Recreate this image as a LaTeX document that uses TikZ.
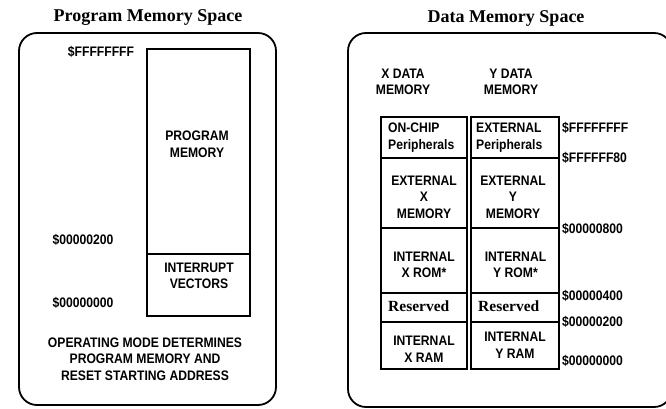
\documentclass[tikz,border=0pt]{standalone}
\usepackage{fontspec}
\setmainfont{Liberation Serif}
\newfontfamily\lab[FakeStretch=0.88]{Liberation Sans}
\begin{document}
\begin{tikzpicture}[x=1pt,y=-1pt,
  outer/.style={draw, line width=1.8pt, rounded corners=18pt},
  cell/.style={draw, line width=1.6pt, inner sep=0pt, outer sep=0pt},
  txt/.style={inner sep=0pt, align=center, font=\lab\bfseries\fontsize{13.8}{16.5}\selectfont},
  ltxt/.style={txt, align=left},
  ttl/.style={inner sep=0pt, font=\bfseries\fontsize{18}{20}\selectfont},
  srf/.style={inner sep=0pt, font=\bfseries\fontsize{15.5}{18}\selectfont}]
\useasboundingbox (0,0) rectangle (666,409);
\clip (0,0) rectangle (666,409);
% titles
\node[ttl] (t1) at (148,18) {Program Memory Space};
\node[ttl] (t2) at (506,18) {Data Memory Space};
% outer frames
\draw[outer] (19,33) rectangle (276,405);
\draw[outer] (348,33) rectangle (672,407);
% program memory column
\node[cell, minimum width=103pt, minimum height=205pt] (pm) at (198.5,151.5) {};
\node[cell, minimum width=103pt, minimum height=62pt] (iv) at (198.5,285) {};
\node[txt] (pmt) at (197,144) {PROGRAM\\MEMORY};
\node[txt] (ivt) at (199,276) {INTERRUPT\\VECTORS};
\node[txt] (a1) at (101,52) {\$FFFFFFFF};
\node[txt] (a2) at (83,240) {\$00000200};
\node[txt] (a3) at (83,303) {\$00000000};
\node[txt] (op) at (145,359) {OPERATING MODE DETERMINES\\PROGRAM MEMORY AND\\RESET STARTING ADDRESS};
% data memory headers
\node[txt] (xh) at (403,82) {X DATA\\MEMORY};
\node[txt] (yh) at (511,82) {Y DATA\\MEMORY};
% X column cells
\node[cell, minimum width=86pt, minimum height=41pt] (x1) at (424,137.5) {};
\node[cell, minimum width=86pt, minimum height=70pt] (x2) at (424,193) {};
\node[cell, minimum width=86pt, minimum height=65pt] (x3) at (424,260.5) {};
\node[cell, minimum width=86pt, minimum height=29pt] (x4) at (424,307.5) {};
\node[cell, minimum width=86pt, minimum height=47pt] (x5) at (424,345.5) {};
% Y column cells
\node[cell, minimum width=88pt, minimum height=41pt] (y1) at (515,137.5) {};
\node[cell, minimum width=88pt, minimum height=70pt] (y2) at (515,193) {};
\node[cell, minimum width=88pt, minimum height=65pt] (y3) at (515,260.5) {};
\node[cell, minimum width=88pt, minimum height=29pt] (y4) at (515,307.5) {};
\node[cell, minimum width=88pt, minimum height=47pt] (y5) at (515,345.5) {};
% cell texts
\node[ltxt, anchor=west] (x1t) at (388,137.5) {ON-CHIP\\Peripherals};
\node[ltxt, anchor=west] (y1t) at (476,137.5) {EXTERNAL\\Peripherals};
\node[txt] (x2t) at (424,197) {EXTERNAL\\X\\MEMORY};
\node[txt] (y2t) at (513,197) {EXTERNAL\\Y\\MEMORY};
\node[txt] (x3t) at (424,265) {INTERNAL\\X ROM*};
\node[txt] (y3t) at (515.5,265) {INTERNAL\\Y ROM*};
\node[srf, anchor=west] (x4t) at (388,306) {Reserved};
\node[srf, anchor=west] (y4t) at (478,306) {Reserved};
\node[txt] (x5t) at (424,349) {INTERNAL\\X RAM};
\node[txt] (y5t) at (515,345) {INTERNAL\\Y RAM};
% addresses
\node[txt, anchor=west] (b1) at (562,128) {\$FFFFFFFF};
\node[txt, anchor=west] (b2) at (562,158) {\$FFFFFF80};
\node[txt, anchor=west] (b3) at (562,229) {\$00000800};
\node[txt, anchor=west] (b4) at (562,296) {\$00000400};
\node[txt, anchor=west] (b5) at (562,322) {\$00000200};
\node[txt, anchor=west] (b6) at (562,361) {\$00000000};
\end{tikzpicture}
\end{document}
